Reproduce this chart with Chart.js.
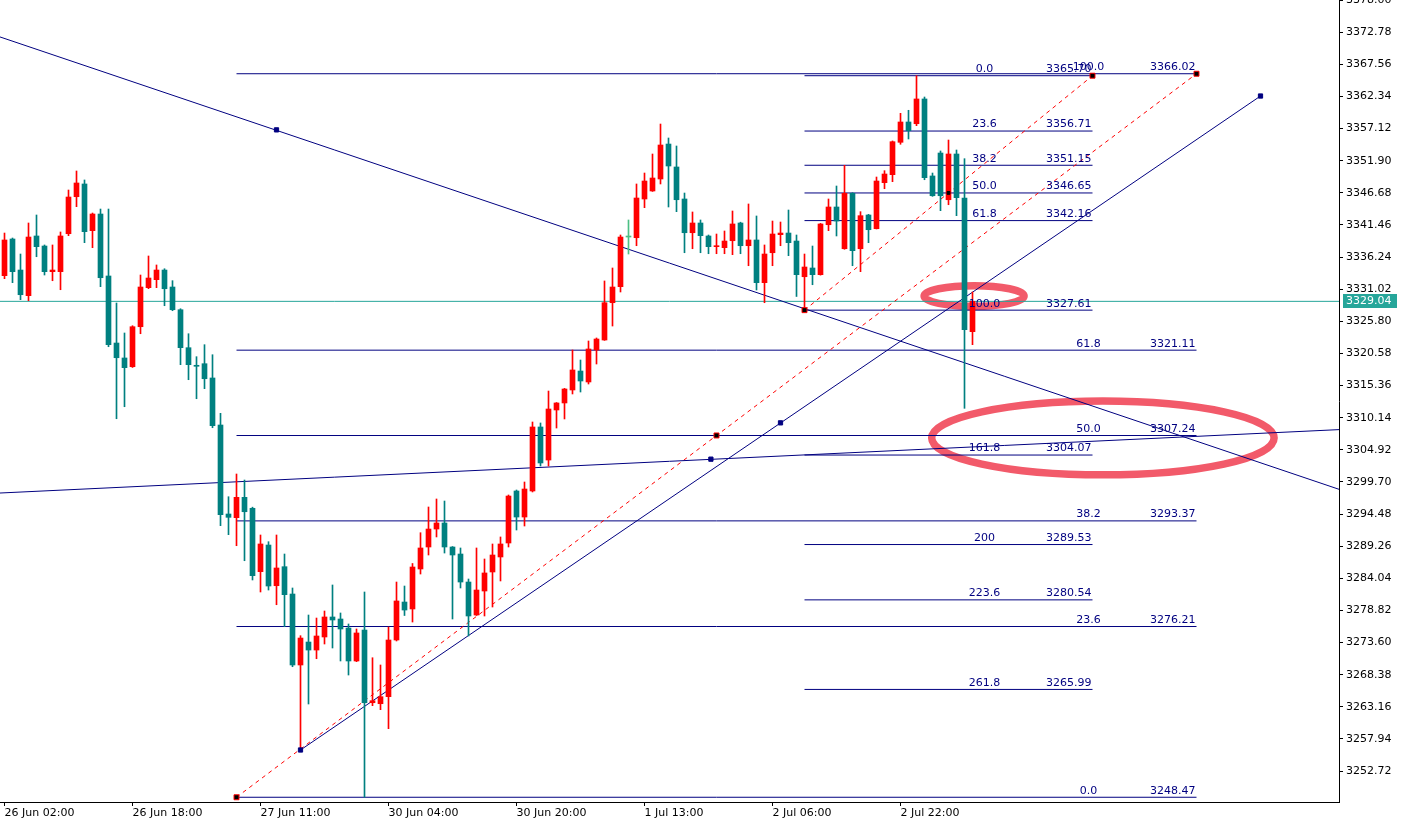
<!DOCTYPE html>
<html>
<head>
<meta charset="utf-8">
<script src="https://cdn.jsdelivr.net/npm/chart.js@4.4.1/dist/chart.umd.min.js"></script>
<style>
  html, body { margin: 0; padding: 0; background: #fff; }
  #grafico { display: block; }
</style>
</head>
<body>
<canvas id="grafico" width="1409" height="818"></canvas>
<script>
// XAUUSD H1 — candles + fibo / trend lines

// ── eixo X ──
const xTickIdx  = [0, 16, 32, 48, 64, 80, 96, 112];
const xTickText = ['26 Jun 02:00', '26 Jun 18:00', '27 Jun 11:00', '30 Jun 04:00',
                   '30 Jun 20:00', '1 Jul 13:00', '2 Jul 06:00', '2 Jul 22:00'];

// ── eixo Y ──
const yTicks = [3378.00, 3372.78, 3367.56, 3362.34, 3357.12, 3351.90, 3346.68, 3341.46,
                3336.24, 3331.02, 3325.80, 3320.58, 3315.36, 3310.14, 3304.92, 3299.70,
                3294.48, 3289.26, 3284.04, 3278.82, 3273.60, 3268.38, 3263.16, 3257.94, 3252.72];

// ── OHLC ──
const opens = [
  3333.21, 3339.17, 3334.13, 3329.96, 3339.66, 3338.03, 3333.86, 3333.86, 3340.03, 3346.04,
  3348.11, 3340.52, 3343.23, 3333.16, 3322.27, 3319.84, 3318.42, 3324.92, 3331.26, 3332.56,
  3334.13, 3331.37, 3327.68, 3321.51, 3318.59, 3318.91, 3316.59, 3308.95, 3294.49, 3293.89,
  3297.20, 3295.42, 3285.12, 3289.45, 3282.84, 3285.93, 3281.49, 3269.96, 3273.69, 3272.39,
  3274.51, 3277.76, 3277.43, 3275.97, 3270.61, 3275.64, 3263.83, 3263.67, 3264.81, 3274.02,
  3280.19, 3279.06, 3285.56, 3289.13, 3292.05, 3293.03, 3289.13, 3287.99, 3283.44, 3278.08,
  3281.98, 3285.07, 3287.51, 3289.78, 3298.23, 3294.00, 3298.23, 3308.63, 3303.26, 3311.39,
  3312.53, 3314.64, 3317.72, 3315.94, 3321.14, 3322.76, 3328.82, 3331.42, 3339.49, 3339.38,
  3345.67, 3346.97, 3348.92, 3354.60, 3350.87, 3345.67, 3340.19, 3341.77, 3339.66, 3337.92,
  3337.76, 3338.89, 3341.77, 3338.08, 3339.01, 3332.07, 3336.94, 3339.87, 3340.14, 3338.84,
  3333.04, 3334.46, 3333.37, 3341.49, 3344.37, 3337.59, 3346.59, 3337.59, 3343.07, 3340.84,
  3348.32, 3349.62, 3354.88, 3358.18, 3357.90, 3361.92, 3349.41, 3353.14, 3345.55, 3352.98,
  3345.83, 3324.11
];
const highs = [
  3340.14, 3339.33, 3336.73, 3341.77, 3343.07, 3338.20, 3338.20, 3340.31, 3347.13, 3350.22,
  3348.76, 3343.39, 3344.04, 3344.04, 3328.77, 3323.90, 3325.08, 3333.32, 3336.41, 3334.95,
  3334.34, 3332.40, 3327.84, 3323.78, 3320.05, 3322.00, 3320.37, 3310.85, 3297.30, 3300.99,
  3300.01, 3295.60, 3291.08, 3289.99, 3291.08, 3287.99, 3282.47, 3274.72, 3278.08, 3277.59,
  3278.73, 3282.96, 3278.41, 3276.62, 3275.81, 3281.82, 3271.14, 3269.96, 3276.13, 3283.44,
  3282.79, 3286.45, 3291.45, 3295.63, 3296.93, 3296.60, 3289.20, 3288.97, 3283.93, 3288.97,
  3287.18, 3289.62, 3290.76, 3297.58, 3298.39, 3299.69, 3309.44, 3309.28, 3314.47, 3312.60,
  3314.90, 3321.14, 3319.51, 3322.60, 3323.09, 3332.35, 3334.46, 3339.82, 3342.26, 3348.11,
  3349.89, 3352.98, 3357.85, 3355.58, 3354.28, 3346.64, 3343.56, 3342.26, 3339.82, 3339.98,
  3340.47, 3343.72, 3341.90, 3344.86, 3342.91, 3338.20, 3342.09, 3341.93, 3343.88, 3339.82,
  3336.73, 3338.03, 3341.70, 3345.67, 3347.78, 3351.14, 3346.70, 3343.61, 3343.18, 3349.24,
  3350.27, 3355.10, 3359.59, 3360.08, 3365.70, 3362.24, 3349.89, 3353.47, 3355.25, 3353.63,
  3352.22, 3330.56
];
const lows = [
  3332.72, 3332.07, 3329.31, 3329.15, 3336.29, 3333.32, 3332.39, 3330.93, 3339.71, 3344.42,
  3338.57, 3337.76, 3331.42, 3321.67, 3309.97, 3311.92, 3318.30, 3323.78, 3331.10, 3331.26,
  3328.33, 3327.52, 3318.75, 3316.31, 3313.22, 3314.85, 3308.51, 3292.59, 3291.13, 3289.34,
  3286.90, 3283.77, 3281.82, 3282.14, 3279.75, 3276.18, 3269.68, 3256.15, 3263.62, 3270.98,
  3273.37, 3272.72, 3270.61, 3268.33, 3270.50, 3248.47, 3263.35, 3262.70, 3259.61, 3273.86,
  3278.00, 3276.94, 3284.74, 3287.83, 3290.76, 3288.15, 3277.43, 3282.47, 3274.67, 3278.00,
  3277.92, 3279.38, 3283.61, 3289.13, 3291.89, 3292.54, 3298.07, 3302.29, 3302.29, 3308.46,
  3309.93, 3313.99, 3314.31, 3315.61, 3318.86, 3322.70, 3325.03, 3330.56, 3336.73, 3338.08,
  3344.26, 3346.90, 3348.11, 3344.37, 3343.61, 3336.94, 3337.59, 3336.94, 3336.78, 3336.78,
  3336.78, 3336.62, 3336.78, 3334.83, 3330.88, 3328.82, 3334.83, 3338.08, 3336.46, 3329.83,
  3327.61, 3331.74, 3333.30, 3340.52, 3339.66, 3337.50, 3334.83, 3333.86, 3338.57, 3340.80,
  3347.34, 3348.48, 3354.56, 3355.42, 3357.58, 3348.80, 3346.10, 3343.77, 3344.74, 3342.96,
  3311.66, 3322.00
];
const closes = [
  3339.01, 3333.86, 3330.12, 3339.49, 3337.92, 3333.86, 3334.13, 3339.66, 3345.99, 3348.27,
  3340.36, 3343.23, 3332.88, 3322.00, 3319.88, 3318.26, 3324.92, 3331.37, 3332.83, 3334.13,
  3331.09, 3327.68, 3321.51, 3318.75, 3318.49, 3316.47, 3308.84, 3294.38, 3293.95, 3297.20,
  3294.86, 3284.47, 3289.62, 3282.79, 3285.72, 3281.38, 3269.96, 3274.34, 3272.39, 3274.67,
  3277.76, 3277.27, 3275.81, 3270.61, 3275.16, 3263.83, 3264.16, 3264.81, 3274.02, 3280.36,
  3278.89, 3285.88, 3288.97, 3292.05, 3293.03, 3289.13, 3287.83, 3283.44, 3277.92, 3282.14,
  3284.91, 3287.83, 3289.62, 3297.41, 3294.00, 3298.55, 3308.63, 3302.78, 3311.55, 3312.53,
  3314.80, 3317.89, 3316.10, 3321.30, 3322.92, 3328.82, 3331.37, 3339.49, 3339.49, 3345.83,
  3348.59, 3349.08, 3354.44, 3351.03, 3345.55, 3340.19, 3341.77, 3339.71, 3337.92, 3338.03,
  3338.84, 3341.61, 3338.08, 3339.01, 3332.07, 3336.73, 3339.98, 3340.14, 3338.57, 3333.37,
  3334.62, 3333.37, 3341.61, 3344.37, 3342.09, 3346.59, 3337.27, 3342.96, 3340.68, 3348.59,
  3349.73, 3354.98, 3358.18, 3356.77, 3361.92, 3349.13, 3346.20, 3346.20, 3352.98, 3345.88,
  3324.43, 3329.04
];

const precoAtual = 3329.04;

// ── Fibonacci A (fundo → topo) ──
const fibAIni = 29, fibAFim = 149;
const fibANiveis = ['0.0', '23.6', '38.2', '50.0', '61.8', '100.0'];
const fibAPrecos = [3248.47, 3276.21, 3293.37, 3307.24, 3321.11, 3366.02];

// ── Fibonacci B (topo → 100 e extensões) ──
const fibBIni = 100, fibBFim = 136;
const fibBNiveis = ['0.0', '23.6', '38.2', '50.0', '61.8', '100.0', '161.8', '200', '223.6', '261.8'];
const fibBPrecos = [3365.70, 3356.71, 3351.15, 3346.65, 3342.16, 3327.61, 3304.07, 3289.53, 3280.54, 3265.99];

// diagonais tracejadas dos fibos
const diagAX = [29, 149],  diagAY = [3248.47, 3366.02];
const diagBX = [100, 136], diagBY = [3327.61, 3365.70];

// linhas de tendência
const tend1X = [-0.57, 166.82], tend1Y = [3372.0, 3298.5];
const tend2X = [-0.57, 166.82], tend2Y = [3297.9, 3308.2];
const tend3X = [37, 157],       tend3Y = [3256.15, 3362.4];

// âncoras (quadradinhos)
const ancAzulX = [34, 88.3, 37, 97, 157];
const ancAzulY = [3356.9, 3303.4, 3256.15, 3309.3, 3362.4];
const ancVermX = [29, 89, 149, 100, 136];
const ancVermY = [3248.47, 3307.25, 3366.02, 3327.61, 3365.70];
const ancPretoX = [118];
const ancPretoY = [3346.66];

// elipses de marcação (centro e raios em barras / preço)
const elipseCx = [121.2, 137.3];
const elipseCy = [3329.9, 3306.85];
const elipseRx = [6.25, 21.4];
const elipseRy = [1.67, 6.0];

// ── Paleta ──
const ALTA   = '#ff0000';
const BAIXA  = '#008080';
const DOJI   = '#4cbf84';
const AZUL   = '#000080';
const TEAL   = '#26a69a';
const ELIPSE = '#f25a6a';
const FONTE  = "'DejaVu Sans', sans-serif";

const LARG_EIXO_Y = 70;
const X_MIN = -0.5625;
const X_MAX = X_MIN + (1409 - LARG_EIXO_Y) / 8;   // 8 px por barra

const idx = opens.map((_, i) => i);
const corVela = idx.map(i => closes[i] > opens[i] ? ALTA : (closes[i] < opens[i] ? BAIXA : DOJI));

function linha(xs, ys, cor, traco, ordem) {
    return {
        type: 'line',
        data: xs.map((v, k) => ({ x: v, y: ys[k] })),
        borderColor: cor, borderWidth: 1, borderDash: traco || [],
        pointRadius: 0, fill: false, tension: 0, order: ordem
    };
}

function ancoras(xs, ys, fundo, borda, raio) {
    return {
        type: 'line', showLine: false,
        data: xs.map((v, k) => ({ x: v, y: ys[k] })),
        pointStyle: 'rect', pointRadius: raio,
        pointBackgroundColor: fundo, pointBorderColor: borda, pointBorderWidth: 1,
        order: -1
    };
}

const datasets = [
    { type: 'bar', data: idx.map(i => ({ x: i, y: [opens[i], closes[i]] })),
      backgroundColor: corVela, barThickness: 5, grouped: false, minBarLength: 1, order: 0 },
    { type: 'bar', data: idx.map(i => ({ x: i, y: [lows[i], highs[i]] })),
      backgroundColor: corVela, barThickness: 1, grouped: false, order: 1 }
];

fibAPrecos.forEach(p => datasets.push(linha([fibAIni, fibAFim], [p, p], AZUL, null, 3)));
fibBPrecos.forEach(p => datasets.push(linha([fibBIni, fibBFim], [p, p], AZUL, null, 3)));
datasets.push(linha([X_MIN, X_MAX], [precoAtual, precoAtual], TEAL, null, 3));
datasets.push(linha(tend1X, tend1Y, AZUL, null, 2));
datasets.push(linha(tend2X, tend2Y, AZUL, null, 2));
datasets.push(linha(tend3X, tend3Y, AZUL, null, 2));
datasets.push(linha(diagAX, diagAY, ALTA, [4, 4], 2));
datasets.push(linha(diagBX, diagBY, ALTA, [4, 4], 2));
datasets.push(ancoras(ancAzulX, ancAzulY, AZUL, AZUL, 3));
datasets.push(ancoras(ancVermX, ancVermY, '#000', ALTA, 3.5));
datasets.push(ancoras(ancPretoX, ancPretoY, '#000', '#000', 2));

// elipses (fundo), rótulos dos fibos e etiqueta do preço
const desenhos = {
    id: 'desenhos',
    beforeDatasetsDraw(chart) {
        const { ctx, scales: { x, y } } = chart;
        ctx.save();
        ctx.strokeStyle = ELIPSE;
        ctx.lineWidth = 7.5;
        elipseCx.forEach((cx, k) => {
            const px = x.getPixelForValue(cx), py = y.getPixelForValue(elipseCy[k]);
            const rx = Math.abs(x.getPixelForValue(cx + elipseRx[k]) - px);
            const ry = Math.abs(y.getPixelForValue(elipseCy[k] + elipseRy[k]) - py);
            ctx.beginPath();
            ctx.ellipse(px, py, rx, ry, 0, 0, Math.PI * 2);
            ctx.stroke();
        });
        ctx.restore();
    },
    afterDatasetsDraw(chart) {
        const { ctx, scales: { x, y } } = chart;
        ctx.save();
        ctx.font = '11px ' + FONTE;
        ctx.fillStyle = AZUL;
        ctx.textBaseline = 'bottom';
        const rotulos = (niveis, precos, fim) => {
            const xe = x.getPixelForValue(fim);
            niveis.forEach((n, k) => {
                const yy = y.getPixelForValue(precos[k]) - 1;
                ctx.textAlign = 'center';
                ctx.fillText(n, xe - 108, yy);
                ctx.textAlign = 'right';
                ctx.fillText(precos[k].toFixed(2), xe - 1, yy);
            });
        };
        rotulos(fibANiveis, fibAPrecos, fibAFim);
        rotulos(fibBNiveis, fibBPrecos, fibBFim);
        ctx.restore();
    },
    afterDraw(chart) {
        const { ctx, chartArea, scales: { y } } = chart;
        const py = Math.round(y.getPixelForValue(precoAtual));
        ctx.save();
        ctx.fillStyle = TEAL;
        ctx.fillRect(chartArea.right + 4, py - 7, 54, 14);
        ctx.fillStyle = '#fff';
        ctx.font = '11px ' + FONTE;
        ctx.textBaseline = 'middle';
        ctx.textAlign = 'left';
        ctx.fillText(precoAtual.toFixed(2), chartArea.right + 7, py);
        ctx.restore();
    }
};

new Chart(document.getElementById('grafico'), {
    type: 'bar',
    data: { datasets },
    plugins: [desenhos],
    options: {
        responsive: false,
        devicePixelRatio: 1,
        animation: false,
        events: [],
        layout: { padding: 0, autoPadding: false },
        plugins: { legend: { display: false }, tooltip: { enabled: false } },
        scales: {
            x: {
                type: 'linear', min: X_MIN, max: X_MAX, offset: false,
                grid: { display: true, drawOnChartArea: false, drawTicks: true, tickLength: 4, color: '#000', offset: false },
                border: { display: true, color: '#000', width: 1 },
                ticks: {
                    autoSkip: false, maxRotation: 0, align: 'start', padding: 1, color: '#000',
                    font: { family: FONTE, size: 11 },
                    callback: (v) => { const k = xTickIdx.indexOf(v); return k >= 0 ? xTickText[k] : ''; }
                },
                afterBuildTicks: (s) => { s.ticks = xTickIdx.map(v => ({ value: v })); },
                afterFit: (s) => { s.height = 16; s.paddingLeft = 0; s.paddingRight = 0; }
            },
            y: {
                type: 'linear', position: 'right', min: 3247.70, max: 3378.00,
                grid: { display: true, drawOnChartArea: false, drawTicks: true, tickLength: 4, color: '#000' },
                border: { display: true, color: '#000', width: 1 },
                ticks: { padding: 3, color: '#000', font: { family: FONTE, size: 11 },
                         callback: (v) => Number(v).toFixed(2) },
                afterBuildTicks: (s) => { s.ticks = yTicks.map(v => ({ value: v })); },
                afterFit: (s) => { s.width = LARG_EIXO_Y; s.paddingTop = 0; s.paddingBottom = 0; }
            }
        }
    }
});
</script>
</body>
</html>
